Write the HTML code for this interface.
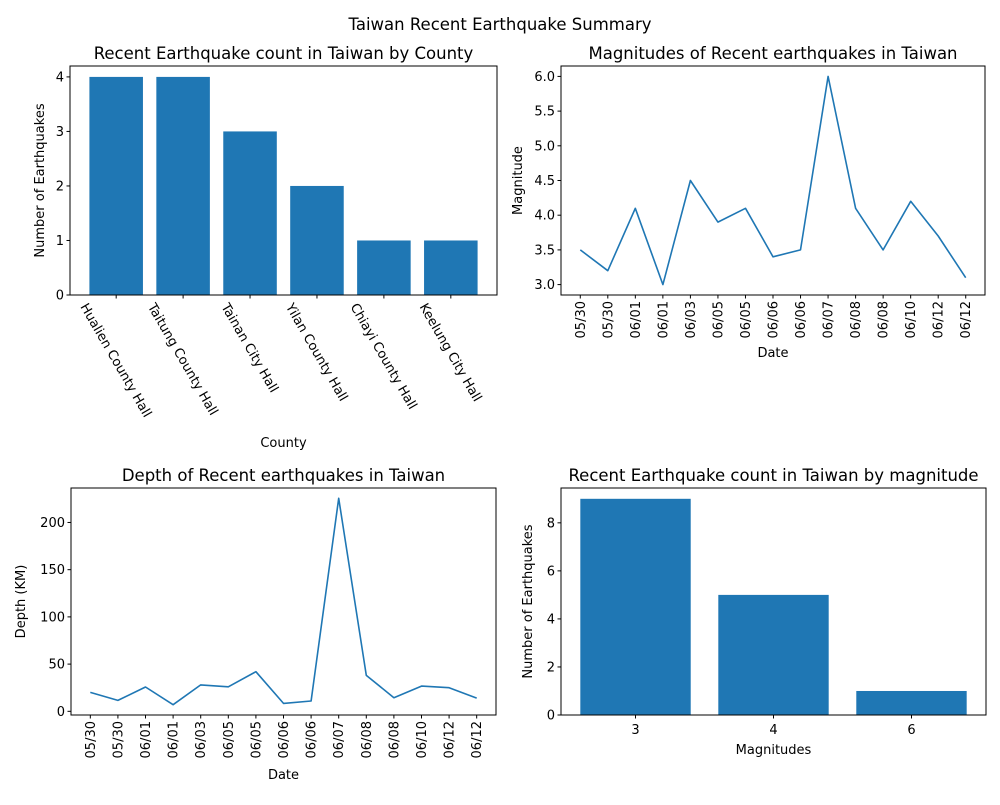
<!DOCTYPE html>
<html><head><meta charset="utf-8">
<style>
html,body{margin:0;padding:0;background:#fff;}
svg text{font-family:"DejaVu Sans","Liberation Sans",sans-serif;fill:#000;}
</style></head>
<body>
<svg id="fig" width="1000" height="800" xmlns="http://www.w3.org/2000/svg">
<text x="500" y="30" text-anchor="middle" font-size="16.5">Taiwan Recent Earthquake Summary</text>
</svg>
<script>
const counties = ["Hualien County Hall","Taitung County Hall","Tainan City Hall","Yilan County Hall","Chiayi County Hall","Keelung City Hall"];
const countyCounts = [4,4,3,2,1,1];
const dates = ["05/30","05/30","06/01","06/01","06/03","06/05","06/05","06/06","06/06","06/07","06/08","06/08","06/10","06/12","06/12"];
const magnitudes = [3.5,3.2,4.1,3.0,4.5,3.9,4.1,3.4,3.5,6.0,4.1,3.5,4.2,3.7,3.1];
const depths = [20,11.6,25.7,7,28,26,42,8.4,10.9,225.6,38,14.4,26.7,25,14];
const magCats = ["3","4","6"];
const magCounts = [9,5,1];
const countTicks1 = [0,1,2,3,4];
const magTicks = [3.0,3.5,4.0,4.5,5.0,5.5,6.0];
const depthTicks = [0,50,100,150,200];
const countTicks4 = [0,2,4,6,8];

const NS="http://www.w3.org/2000/svg";
const svg=document.getElementById('fig');
const C="#1f77b4";
function el(tag,attrs,parent,text){const e=document.createElementNS(NS,tag);for(const k in attrs)e.setAttribute(k,attrs[k]);if(text!==undefined)e.textContent=text;(parent||svg).appendChild(e);return e;}

function axes(name,L,T,R,B,xmin,xmax,ymin,ymax){
  const g=el('g',{});
  
  
  const sx=v=>L+(v-xmin)/(xmax-xmin)*(R-L);
  const sy=v=>B-(v-ymin)/(ymax-ymin)*(B-T);
  return {g,sx,sy,L,T,R,B};
}
function frame(a){el('rect',{x:a.L,y:a.T,width:a.R-a.L,height:a.B-a.T,fill:'none',stroke:'#000','stroke-width':1},a.g);}
function yTicks(a,ticks,fmt){
  ticks.forEach(t=>{const y=a.sy(t);
    el('line',{x1:a.L-3.5,x2:a.L,y1:y,y2:y,stroke:'#000'},a.g);
    const tx=el('text',{x:a.L-6,y:y+4.5,'text-anchor':'end','font-size':13},a.g,fmt(t));
    
    
  });
}
function xTick(a,x){el('line',{x1:x,x2:x,y1:a.B,y2:a.B+3.5,stroke:'#000'},a.g);}
function title(a,txt,name){const t=el('text',{x:(a.L+a.R)/2,y:a.T-7,'text-anchor':'middle','font-size':16.5},a.g,txt);
  }
function label(a,txt,x,y,rot,name){const t=el('text',{x:x,y:y,'text-anchor':'middle','font-size':13,transform:rot?`rotate(-90 ${x} ${y})`:''},a.g,txt);
  }
function vertLabels(a){
  dates.forEach((d,i)=>{const x=a.sx(i);xTick(a,x);
    const t=el('text',{x:x+4.5,y:a.B+6,'text-anchor':'end','font-size':13,transform:`rotate(-90 ${x+4.5} ${a.B+6})`},a.g,d);
    });
}
function linePlot(a,vals,name){
  const pts=vals.map((v,i)=>a.sx(i).toFixed(1)+','+a.sy(v).toFixed(1)).join(' ');
  const p=el('polyline',{points:pts,fill:'none',stroke:C,'stroke-width':1.6,'stroke-linejoin':'round'},a.g);
  
}

// Chart 1
{
  const pad=(5.8)*0.05;
  const a=axes('county-count-chart',70,66,497,295,-0.4-pad,5.4+pad,0,4.2);
  counties.forEach((c,i)=>{
    const b=el('rect',{x:a.sx(i-0.4),y:a.sy(countyCounts[i]),width:a.sx(i+0.4)-a.sx(i-0.4),height:a.sy(0)-a.sy(countyCounts[i]),fill:C},a.g);
    
    
  });
  frame(a);
  yTicks(a,countTicks1,t=>String(t));
  const ang=60*Math.PI/180;
  counties.forEach((c,i)=>{const x=a.sx(i);xTick(a,x);
    const t=el('text',{x:0,y:0,'text-anchor':'middle','font-size':13},a.g,c);
    
    const Lw=t.getComputedTextLength(),h=13;
    const bh=Lw*Math.sin(ang)+h*Math.cos(ang);
    const cy=a.B+6+bh/2;
    t.setAttribute('transform',`translate(${x} ${cy}) rotate(60) translate(0 4.5)`);
  });
  title(a,'Recent Earthquake count in Taiwan by County','chart1-title');
  label(a,'County',(a.L+a.R)/2,447,false,'x-axis-title');
  label(a,'Number of Earthquakes',44,(a.T+a.B)/2,true,'y-axis-title');
}
// Chart 2
{
  const a=axes('magnitude-chart',561,66,985,295,-0.7,14.7,2.85,6.15);
  frame(a);
  linePlot(a,magnitudes,'magnitude-line');
  yTicks(a,magTicks,t=>t.toFixed(1));
  vertLabels(a);
  title(a,'Magnitudes of Recent earthquakes in Taiwan','chart2-title');
  label(a,'Date',(a.L+a.R)/2,357,false,'x-axis-title');
  label(a,'Magnitude',522,(a.T+a.B)/2,true,'y-axis-title');
}
// Chart 3
{
  const a=axes('depth-chart',71,488,496,715,-0.7,14.7,-3.9,236.5);
  frame(a);
  linePlot(a,depths,'depth-line');
  yTicks(a,depthTicks,t=>String(t));
  vertLabels(a);
  title(a,'Depth of Recent earthquakes in Taiwan','chart3-title');
  label(a,'Date',(a.L+a.R)/2,779,false,'x-axis-title');
  label(a,'Depth (KM)',25,(a.T+a.B)/2,true,'y-axis-title');
}
// Chart 4
{
  const pad=2.8*0.05;
  const a=axes('magnitude-count-chart',561,488,986,715,-0.4-pad,2.4+pad,0,9.45);
  magCats.forEach((c,i)=>{
    const b=el('rect',{x:a.sx(i-0.4),y:a.sy(magCounts[i]),width:a.sx(i+0.4)-a.sx(i-0.4),height:a.sy(0)-a.sy(magCounts[i]),fill:C},a.g);
    
    
  });
  frame(a);
  yTicks(a,countTicks4,t=>String(t));
  magCats.forEach((c,i)=>{const x=a.sx(i);xTick(a,x);
    const t=el('text',{x:x,y:a.B+19,'text-anchor':'middle','font-size':13},a.g,c);
    });
  title(a,'Recent Earthquake count in Taiwan by magnitude','chart4-title');
  label(a,'Magnitudes',(a.L+a.R)/2,754,false,'x-axis-title');
  label(a,'Number of Earthquakes',532,(a.T+a.B)/2,true,'y-axis-title');
}
</script>
</body></html>
